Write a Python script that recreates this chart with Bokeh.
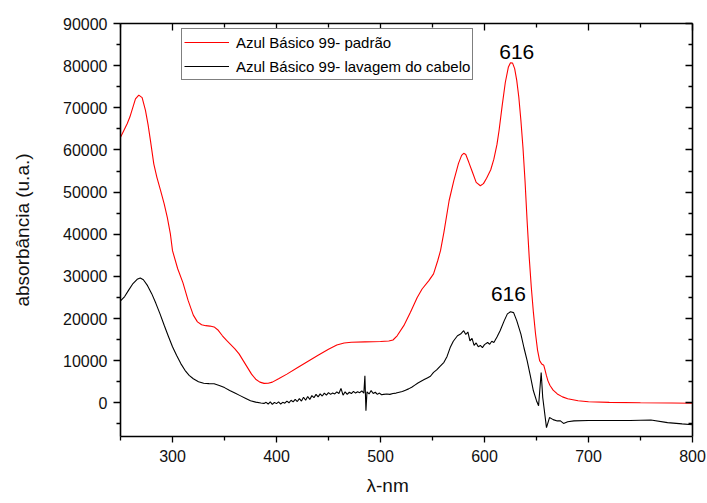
from bokeh.plotting import figure
from bokeh.models import Range1d, FixedTicker, LinearAxis, Label, Legend, LegendItem, ColumnDataSource, Title
from bokeh.embed import file_html
from bokeh.resources import INLINE

# ---- data ----
wl_padrao = [250, 253, 256.4, 259, 261, 264.4, 267.6, 270.8, 274, 276.5, 278.8, 282, 285,
             288.5, 292, 295, 298, 300, 305, 310, 315, 320, 324, 328, 332, 336, 340, 344, 348,
             352, 356, 360, 364, 368, 372, 376, 380, 384, 388, 392, 396, 402, 410, 420, 430,
             440, 450, 458, 465, 472, 485, 500, 508, 512, 516, 522.4, 528.8, 535.3, 540, 546.5,
             551, 555, 557.7, 561, 566, 570.5, 575, 578, 580, 582, 585, 588, 592, 596, 599, 602,
             606, 609, 612, 614, 617, 620, 623, 625, 627, 629, 631, 633, 635, 637, 639, 641,
             643, 645, 647, 649, 651, 653, 655, 657, 658, 659.5, 661, 663, 666, 670, 675, 680,
             690, 700, 720, 750, 780, 800]
abs_padrao = [63000, 64500, 66200, 67800, 69400, 72100, 73000, 72400, 69400, 66000, 62200,
              56700, 53500, 50400, 47200, 44000, 40000, 36100, 31800, 28500, 24300, 20800,
              19200, 18500, 18300, 18200, 18000, 17200, 15900, 14800, 13800, 12800, 11600,
              10000, 8400, 6800, 5600, 4900, 4600, 4650, 4900, 5700, 6800, 8300, 9800, 11300,
              12700, 13700, 14200, 14350, 14450, 14550, 14650, 14900, 15900, 18300, 21500,
              25000, 27000, 29000, 30600, 33700, 36100, 40500, 48000, 52700, 56800, 58700,
              59200, 58900, 57000, 55000, 52300, 51500, 52000, 53300, 55300, 57800, 61300,
              64600, 70500, 76000, 79700, 80700, 80600, 79300, 76500, 72500, 67000, 60500,
              52500, 43000, 34500, 27400, 21500, 16500, 12500, 10000, 9200, 8900, 8000, 6500,
              5200, 4100, 3000, 2100, 1400, 950, 500, 250, 100, 0, -50, -100]

wl_cabelo = [250, 254, 258, 262, 266, 269, 272, 276, 280, 284, 288, 292, 296, 300, 304, 308,
             312, 316, 320, 325, 330, 335, 340, 345, 350, 355, 360, 365, 370, 375, 380, 385,
             388,
             390, 392, 394, 396, 398, 400, 402, 404, 406, 408, 410, 412, 414, 416, 418, 420,
             422, 424, 426, 428, 430, 432, 434, 436, 438, 440, 442, 444, 446, 448, 450, 452,
             454, 456, 458, 460, 462, 464, 466, 468, 470, 472, 474, 476, 478, 480, 482, 484,
             485, 486, 487, 489, 491, 493, 495, 497, 499, 501, 503, 506, 509, 512, 515, 518,
             521, 524, 527, 530, 533, 536, 539, 542, 545, 548, 551, 554, 557, 561, 564, 567,
             570, 574, 577, 580, 582, 584, 586, 588, 590, 592, 594, 596, 598, 600, 603, 605,
             607, 609, 612, 615, 619, 622, 625, 628, 631, 635, 638, 641, 644, 647, 650, 652,
             654.5, 656, 659.6, 662.5, 666, 670, 673, 676, 680, 686, 700, 720, 740, 760, 776,
             790, 800]
abs_cabelo = [24200, 25200, 26800, 28300, 29300, 29600, 29200, 27800, 25900, 23600, 21100,
              18400, 15800, 13300, 11200, 9300, 7700, 6500, 5700, 5000, 4650, 4550, 4500,
              4100, 3600, 2900, 2300, 1700, 1100, 500, 150, -50, -150,
              100, -300, 200, -400, 100, -200, 200, -300, 100, -100, 400, 0, 600, 200, 800,
              300, 1000, 400, 1300, 600, 1500, 800, 1700, 1200, 2000, 1400, 2100, 1600, 2300,
              1800, 2400, 2000, 2300, 2100, 2600, 2200, 3400, 1800, 2600, 2000, 2500, 2200,
              2700, 2300, 2600, 2400, 2800, 2300,
              6400, -1900, 2600, 2100, 2900, 2200, 2500, 2000, 2300, 1900, 2000, 2100, 2000,
              2200, 2300, 2500, 2700, 3000, 3300, 3700, 4200, 4700, 5100, 5500, 5900, 6300,
              7200, 7800, 8600, 9600, 11000, 13100, 14600, 15900, 16300, 17100, 16200, 16800,
              14700, 15300, 13600, 14200, 13300, 13600, 13100, 13800, 14300, 13900, 14600,
              14300, 15600, 17100, 19500, 21100, 21600, 21400, 19500, 16300, 13000, 10000,
              6500, 2850, 500, -700, 7200, 1250, -5900, -3500, -4000, -4300, -4300, -4900,
              -4500, -4300, -4200, -4200, -4200, -4100, -4700, -5000, -5200]

series_names = ["Azul Básico 99- padrão", "Azul Básico 99- lavagem do cabelo"]
x_major = [300, 400, 500, 600, 700, 800]
x_minor = [250, 350, 450, 550, 650, 750]
y_major = [0, 10000, 20000, 30000, 40000, 50000, 60000, 70000, 80000, 90000]
y_minor = [-5000, 5000, 15000, 25000, 35000, 45000, 55000, 65000, 75000, 85000]
peak_labels = [("616", 631, 83200), ("616", 623, 25900)]
x_title = "λ-nm"
y_title = "absorbância (u.a.)"

FONT = "Liberation Sans"

p = figure(width=707, height=503, output_backend="svg", toolbar_location=None,
           x_range=Range1d(250, 800), y_range=Range1d(-8000, 90000),
           min_border_left=120, min_border_right=15, min_border_top=23, min_border_bottom=67)
p.outline_line_color = None
p.grid.visible = False
p.background_fill_color = "white"
p.border_fill_color = "white"

src1 = ColumnDataSource(dict(x=wl_padrao, y=abs_padrao))
src2 = ColumnDataSource(dict(x=wl_cabelo, y=abs_cabelo))
r1 = p.line("x", "y", source=src1, line_color="#ff0000", line_width=1.1)
r2 = p.line("x", "y", source=src2, line_color="black", line_width=1.1)

def style_axis(ax):
    ax.axis_line_color = "black"
    ax.axis_line_width = 1.6
    ax.major_tick_line_color = "black"
    ax.minor_tick_line_color = "black"
    ax.major_tick_line_width = 1.3
    ax.minor_tick_line_width = 1.3
    ax.major_label_text_font = FONT
    ax.major_label_text_font_size = "16px"
    ax.major_label_text_color = "#111111"
    ax.axis_label_text_font = FONT
    ax.axis_label_text_font_style = "normal"
    ax.axis_label_text_color = "#111111"

xa = p.xaxis[0]
ya = p.yaxis[0]
style_axis(xa)
style_axis(ya)
xa.ticker = FixedTicker(ticks=x_major, minor_ticks=x_minor)
ya.ticker = FixedTicker(ticks=y_major, minor_ticks=y_minor)
for ax in (xa, ya):
    ax.major_tick_out = 7
    ax.major_tick_in = 0
    ax.minor_tick_out = 4
    ax.minor_tick_in = 0
xa.major_tick_out = 6
xa.major_label_standoff = 7
ya.major_label_standoff = 6
ya.axis_label = y_title
ya.axis_label_text_font_size = "19px"
ya.axis_label_standoff = 27

# mirrored top / right axes: inward ticks, no labels
top = LinearAxis(ticker=FixedTicker(ticks=x_major, minor_ticks=x_minor))
right = LinearAxis(ticker=FixedTicker(ticks=y_major, minor_ticks=y_minor))
for ax, ticks in ((top, x_major), (right, y_major)):
    style_axis(ax)
    ax.major_label_overrides = {t: "" for t in ticks}
    ax.major_label_standoff = 0
    ax.major_tick_out = 0
    ax.major_tick_in = 7
    ax.minor_tick_out = 0
    ax.minor_tick_in = 4
p.add_layout(top, "above")
p.add_layout(right, "right")

# x-axis title placed as in the reference (slightly left of centre)
xt = Title(text=x_title, align="left", offset=246, standoff=16,
           text_font=FONT, text_font_size="19px", text_font_style="normal",
           text_color="#111111")
p.add_layout(xt, "below")

for txt, xx, yy in peak_labels:
    p.add_layout(Label(x=xx, y=yy, text=txt, text_align="center", text_baseline="middle",
                       text_font=FONT, text_font_size="21px", text_color="black"))

legend = Legend(items=[LegendItem(label=series_names[0], renderers=[r1]),
                       LegendItem(label=series_names[1], renderers=[r2])],
                location=(61, 356))
legend.label_text_font = FONT
legend.label_text_font_size = "15px"
legend.label_text_color = "black"
legend.glyph_width = 45
legend.glyph_height = 22
legend.label_height = 22
legend.label_standoff = 7
legend.spacing = 2
legend.padding = 2
legend.margin = 0
legend.border_line_color = "black"
legend.border_line_width = 1.2
legend.background_fill_alpha = 1
p.add_layout(legend, "center")

open("out.html", "w").write(file_html(p, INLINE))
